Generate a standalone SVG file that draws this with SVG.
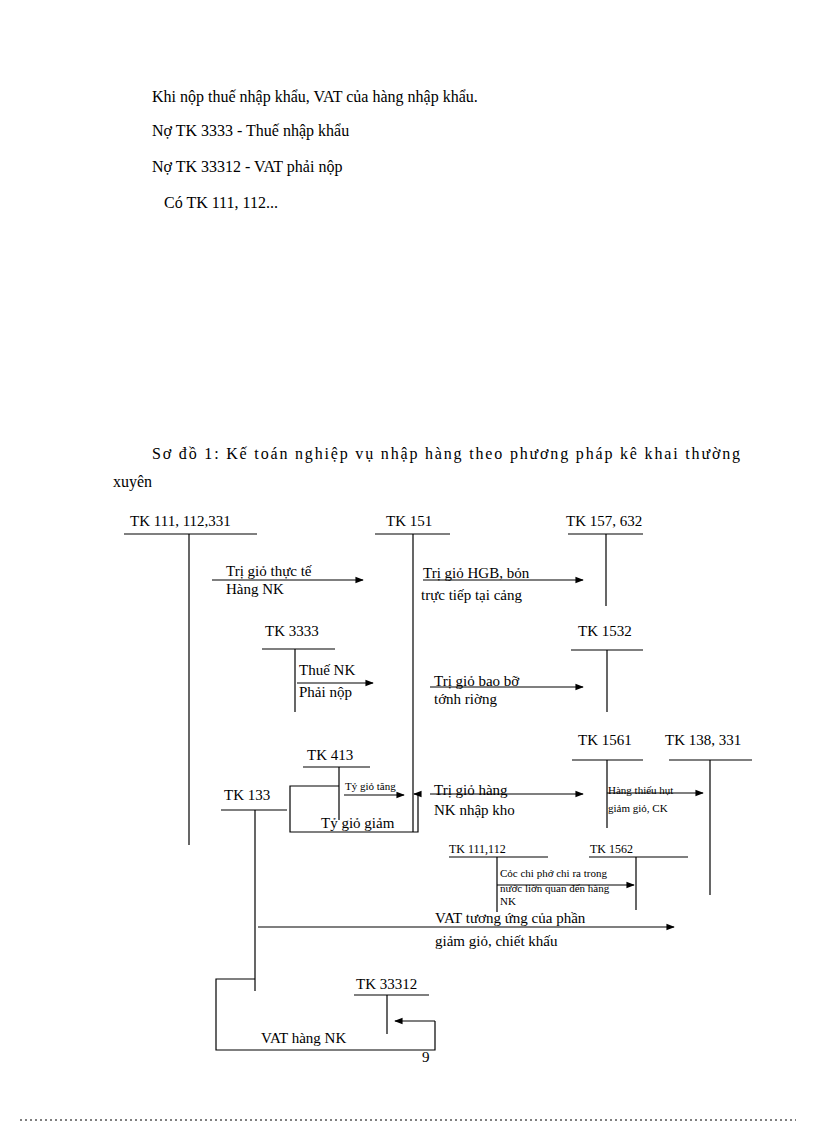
<svg xmlns="http://www.w3.org/2000/svg" width="816" height="1123" viewBox="0 0 816 1123">
<defs>
<style>
text{font-family:"Liberation Serif","Times New Roman",serif;fill:#000}
.p{font-size:16px}.l{font-size:15px}.s{font-size:12px}.xs{font-size:11px}
line,polyline{stroke:#000;stroke-width:1.2;fill:none}
</style>
<marker id="a" viewBox="0 0 10 10" refX="9" refY="5" markerWidth="7" markerHeight="7" orient="auto"><path d="M0,1L10,5L0,9z" fill="#000"/></marker>
</defs>
<rect width="816" height="1123" fill="#fff"/>
<text class="p" x="152" y="102">Khi nộp thuế nhập khẩu, VAT của hàng nhập khẩu.</text>
<text class="p" x="152" y="136">Nợ TK 3333 - Thuế nhập khẩu</text>
<text class="p" x="152" y="172">Nợ TK 33312 - VAT phải nộp</text>
<text class="p" x="164" y="208">Có TK 111, 112...</text>
<text class="p" x="152" y="459" textLength="588" lengthAdjust="spacing">Sơ đồ 1: Kế toán nghiệp vụ nhập hàng theo phương pháp kê khai thường</text>
<text class="p" x="113" y="487">xuyên</text>

<g id="tk111"><text class="l" x="130" y="526">TK 111, 112,331</text><line x1="124" y1="534" x2="257" y2="534"/><line x1="189" y1="534" x2="189" y2="845"/></g>
<g id="tk151"><text class="l" x="386" y="526">TK 151</text><line x1="375" y1="534" x2="450" y2="534"/><line x1="413" y1="534" x2="413" y2="832"/></g>
<g id="tk157"><text class="l" x="566" y="526">TK 157, 632</text><line x1="568" y1="534" x2="643" y2="534"/><line x1="606" y1="534" x2="606" y2="606"/></g>
<g id="tk3333"><text class="l" x="265" y="636">TK 3333</text><line x1="262" y1="649" x2="335" y2="649"/><line x1="295" y1="649" x2="295" y2="712"/></g>
<g id="tk1532"><text class="l" x="578" y="636">TK 1532</text><line x1="571" y1="650" x2="643" y2="650"/><line x1="607" y1="650" x2="607" y2="712"/></g>
<g id="tk413"><text class="l" x="307" y="760">TK 413</text><line x1="303" y1="767" x2="370" y2="767"/><line x1="339" y1="767" x2="339" y2="820"/></g>
<g id="tk133"><text class="l" x="224" y="800">TK 133</text><line x1="221" y1="810" x2="287" y2="810"/><line x1="255" y1="810" x2="255" y2="991"/></g>
<g id="tk1561"><text class="l" x="578" y="745">TK 1561</text><line x1="572" y1="760" x2="643" y2="760"/><line x1="607" y1="760" x2="607" y2="828"/></g>
<g id="tk138"><text class="l" x="665" y="745">TK 138, 331</text><line x1="669" y1="760" x2="752" y2="760"/><line x1="710" y1="760" x2="710" y2="895"/></g>
<g id="tk111b"><text class="s" x="449" y="853">TK 111,112</text><line x1="449" y1="857" x2="548" y2="857"/><line x1="497" y1="857" x2="497" y2="912"/></g>
<g id="tk1562"><text class="s" x="590" y="853">TK 1562</text><line x1="589" y1="857" x2="688" y2="857"/><line x1="636" y1="857" x2="636" y2="910"/></g>
<g id="tk33312"><text class="l" x="356" y="989">TK 33312</text><line x1="354" y1="995" x2="429" y2="995"/><line x1="387" y1="995" x2="387" y2="1034"/></g>

<g id="connectors">
<line x1="212" y1="580" x2="363" y2="580" marker-end="url(#a)"/>
<line x1="423" y1="580" x2="583" y2="580" marker-end="url(#a)"/>
<line x1="297" y1="683" x2="373" y2="683" marker-end="url(#a)"/>
<line x1="430" y1="687" x2="583" y2="687" marker-end="url(#a)"/>
<polyline points="339,786 290,786 290,832 418,832 418,794"/>
<line x1="344" y1="795" x2="404" y2="795" marker-end="url(#a)"/>
<line x1="418" y1="794" x2="414" y2="794" marker-end="url(#a)"/>
<line x1="430" y1="794" x2="583" y2="794" marker-end="url(#a)"/>
<line x1="607" y1="793" x2="703" y2="793" marker-end="url(#a)"/>
<line x1="497" y1="885" x2="634" y2="885" marker-end="url(#a)"/>
<line x1="258" y1="927" x2="674" y2="927" marker-end="url(#a)"/>
<polyline points="255,979 216,979 216,1050 435,1050 435,1021"/>
<line x1="435" y1="1021" x2="395" y2="1021" marker-end="url(#a)"/>
</g>

<g id="labels">
<text class="l" x="226" y="576">Trị giỏ thực tế</text><text class="l" x="226" y="594">Hàng  NK</text>
<text class="l" x="423" y="578">Trị giỏ HGB, bỏn</text><text class="l" x="421" y="600">trực tiếp tại cảng</text>
<text class="l" x="299" y="675">Thuế NK</text><text class="l" x="299" y="697">Phải nộp</text>
<text class="l" x="434" y="686">Trị giỏ bao bỡ</text><text class="l" x="434" y="704">tớnh riờng</text>
<text class="xs" x="345" y="790">Tỷ giỏ tăng</text>
<text class="l" x="321" y="828">Tỷ giỏ giảm</text>
<text class="l" x="434" y="795">Trị giỏ hàng</text><text class="l" x="434" y="815">NK nhập kho</text>
<text class="xs" x="608" y="794">Hàng  thiếu hụt</text><text class="xs" x="608" y="812">giảm giỏ, CK</text>
<text class="xs" x="500" y="877">Cỏc chi phớ chi ra trong</text><text class="xs" x="500" y="892">nước liờn quan đến hàng</text><text class="xs" x="500" y="905">NK</text>
<text class="l" x="435" y="923">VAT tương ứng của phần</text><text class="l" x="435" y="946">giảm giỏ, chiết khấu</text>
<text class="l" x="261" y="1043">VAT hàng  NK</text>
<text class="l" x="422" y="1062">9</text>
</g>
<line x1="20" y1="1120" x2="796" y2="1120" stroke="#cdc" stroke-dasharray="2,3"/>
</svg>
